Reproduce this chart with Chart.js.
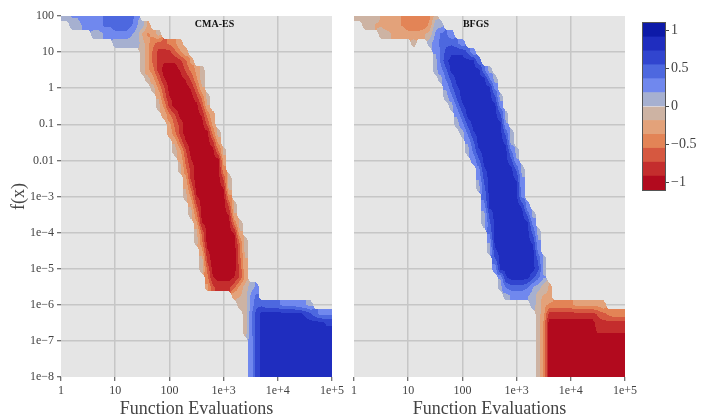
<!DOCTYPE html>
<html>
<head>
<meta charset="utf-8">
<script src="https://cdn.jsdelivr.net/npm/chart.js@4/dist/chart.umd.min.js"></script>
<style>
  body { margin: 0; background: #fff; }
  #wrap { position: relative; width: 708px; height: 419px; overflow: hidden; }
  canvas { position: absolute; top: 0; }
</style>
</head>
<body>
<div id="wrap">
  <canvas id="cmaes" width="350" height="419" style="left:0px;width:350px;height:419px"></canvas>
  <canvas id="bfgs" width="298" height="419" style="left:345px;width:298px;height:419px"></canvas>
  <canvas id="bar" width="78" height="419" style="left:630px;width:78px;height:419px"></canvas>
</div>
<script>
const _ = null;

// grid nodes: log10(evaluations) across, log10(f) down
const logEvals = [0, 0.1, 0.2, 0.3, 0.4, 0.5, 0.6, 0.7, 0.8, 0.9, 1, 1.1, 1.2, 1.3, 1.4, 1.5, 1.6, 1.7, 1.8, 1.9,
  2, 2.1, 2.2, 2.3, 2.4, 2.5, 2.6, 2.7, 2.8, 2.9, 3, 3.1, 3.2, 3.3, 3.4, 3.5, 3.6, 3.7, 3.8, 3.9,
  4, 4.1, 4.2, 4.3, 4.4, 4.5, 4.6, 4.7, 4.8, 4.9, 5];
const logF = [2, 1.75, 1.5, 1.25, 1, 0.75, 0.5, 0.25, 0, -0.25, -0.5, -0.75, -1, -1.25, -1.5, -1.75, -2, -2.25, -2.5, -2.75,
  -3, -3.25, -3.5, -3.75, -4, -4.25, -4.5, -4.75, -5, -5.25, -5.5, -5.75, -6, -6.25, -6.5, -6.75, -7, -7.25, -7.5, -7.75, -8];

// one entry per logF row: [first column, values in tenths]; other columns are empty
const cmaesRows = [
  [0, [1, 1, 2, 2, 3, 3, 3, 3, 4, 4, 5, 5, 5, 5, 2]],
  [2, [1, 1, 2, 3, 3, 3, 4, 4, 5, 5, 5, 4, 2, 1, -2]],
  [6, [1, 1, 2, 2, 3, 3, 3, 2, 1, -2, -4, -3, -1]],
  [10, [1, 1, 1, 1, 1, -1, -3, -5, -6, -6, -5, -4, -2]],
  [15, [-1, -3, -6, -8, -8, -8, -6, -4, -2]],
  [15, [-1, -3, -6, -8, -9, -9, -9, -8, -6, -3]],
  [15, [-1, -3, -5, -8, -10, -10, -10, -9, -7, -5, -3, -1]],
  [16, [-1, -3, -6, -9, -10, -10, -10, -9, -7, -4, -1]],
  [17, [-1, -4, -7, -10, -10, -10, -10, -9, -6, -2]],
  [18, [-2, -6, -9, -10, -10, -10, -10, -8, -5, -1]],
  [18, [-1, -4, -8, -10, -10, -10, -10, -10, -7, -2]],
  [19, [-2, -5, -7, -10, -10, -10, -10, -9, -5, -2]],
  [20, [-3, -6, -8, -10, -10, -10, -10, -7, -3]],
  [20, [-2, -5, -8, -10, -10, -10, -10, -10, -5, -1]],
  [21, [-2, -6, -9, -10, -10, -10, -10, -8, -3]],
  [21, [-1, -3, -7, -10, -10, -10, -10, -10, -6, -1]],
  [22, [-2, -6, -9, -10, -10, -10, -10, -10, -3]],
  [22, [-1, -5, -8, -10, -10, -10, -10, -10, -4]],
  [23, [-3, -8, -10, -10, -10, -10, -10, -7, -1]],
  [23, [-2, -6, -10, -10, -10, -10, -10, -9, -1]],
  [23, [-1, -4, -9, -10, -10, -10, -10, -10, -4]],
  [24, [-2, -7, -10, -10, -10, -10, -10, -7, -1]],
  [24, [-1, -5, -10, -10, -10, -10, -10, -9, -2]],
  [25, [-3, -9, -10, -10, -10, -10, -10, -5, -1]],
  [25, [-1, -6, -10, -10, -10, -10, -10, -9, -2]],
  [25, [-1, -5, -10, -10, -10, -10, -10, -10, -5, -1]],
  [26, [-3, -9, -10, -10, -10, -10, -10, -6, -1]],
  [26, [-1, -8, -10, -10, -10, -10, -10, -6, -2]],
  [26, [-1, -6, -10, -10, -10, -10, -10, -7, -2]],
  [27, [-5, -9, -10, -10, -10, -9, -7, -3]],
  [27, [-3, -7, -8, -8, -8, -6, -3, -1, 1, 2]],
  [32, [-2, -2, -1, 2, 4]],
  [33, [-1, -1, 2, 5, 5, 4, 4, 4, 3, 3, 3, 2, 2, 1]],
  [34, [-1, 3, 6, 8, 8, 8, 8, 8, 8, 8, 8, 7, 6, 4, 3, 3, 3]],
  [34, [-1, 3, 6, 8, 8, 8, 8, 8, 8, 8, 8, 8, 8, 8, 8, 7, 7]],
  [34, [-1, 3, 6, 8, 8, 8, 8, 8, 8, 8, 8, 8, 8, 8, 8, 8, 8]],
  [35, [2, 6, 8, 8, 8, 8, 8, 8, 8, 8, 8, 8, 8, 8, 8, 8]],
  [35, [2, 6, 8, 8, 8, 8, 8, 8, 8, 8, 8, 8, 8, 8, 8, 8]],
  [35, [2, 6, 8, 8, 8, 8, 8, 8, 8, 8, 8, 8, 8, 8, 8, 8]],
  [35, [2, 6, 8, 8, 8, 8, 8, 8, 8, 8, 8, 8, 8, 8, 8, 8]],
  [35, [2, 6, 8, 8, 8, 8, 8, 8, 8, 8, 8, 8, 8, 8, 8, 8]]
];

const bfgsRows = [
  [0, [-1, -1, -1, -1, -1, -2, -3, -3, -3, -4, -5, -5, -5, -5, -4, -1]],
  [2, [-1, -1, -2, -2, -3, -3, -3, -4, -5, -5, -5, -5, -3, 1, 1]],
  [5, [-1, -1, -2, -2, -2, -3, -3, -3, -2, -1, 2, 4, 4, 2]],
  [11, [-1, _, _, 1, 3, 4, 5, 5, 4, 2]],
  [15, [2, 4, 6, 7, 7, 7, 5, 2]],
  [15, [1, 4, 7, 8, 8, 8, 8, 8, 4]],
  [15, [1, 3, 5, 8, 8, 8, 8, 8, 8, 4, 1]],
  [16, [1, 4, 6, 8, 8, 8, 8, 8, 8, 4, 1]],
  [17, [2, 5, 7, 8, 8, 8, 8, 8, 8, 3]],
  [17, [1, 3, 6, 8, 8, 8, 8, 8, 8, 6, 1]],
  [18, [1, 4, 7, 8, 8, 8, 8, 8, 8, 3]],
  [19, [2, 5, 8, 8, 8, 8, 8, 8, 6, 1]],
  [19, [1, 3, 6, 8, 8, 8, 8, 8, 8, 2]],
  [20, [1, 4, 7, 8, 8, 8, 8, 8, 5, 1]],
  [21, [2, 5, 8, 8, 8, 8, 8, 7, 1]],
  [21, [1, 4, 7, 8, 8, 8, 8, 8, 4, 1]],
  [22, [2, 5, 8, 8, 8, 8, 8, 6, 2]],
  [23, [3, 7, 8, 8, 8, 8, 8, 5, 1]],
  [23, [2, 6, 8, 8, 8, 8, 8, 7, 2]],
  [23, [1, 5, 8, 8, 8, 8, 8, 8, 2]],
  [24, [4, 8, 8, 8, 8, 8, 8, 3]],
  [24, [3, 8, 8, 8, 8, 8, 8, 7, 2]],
  [24, [1, 6, 8, 8, 8, 8, 8, 8, 5, 1]],
  [24, [1, 5, 8, 8, 8, 8, 8, 8, 8, 3]],
  [25, [4, 8, 8, 8, 8, 8, 8, 8, 5, 1]],
  [25, [2, 8, 8, 8, 8, 8, 8, 8, 7, 2]],
  [25, [1, 7, 8, 8, 8, 8, 8, 8, 8, 3]],
  [26, [5, 8, 8, 8, 8, 8, 8, 8, 5, 1]],
  [26, [2, 8, 8, 8, 8, 8, 8, 8, 6, 1]],
  [27, [2, 7, 8, 8, 8, 8, 6, 4, 2]],
  [27, [1, 4, 5, 5, 5, 4, 2, 1, -1, -2]],
  [28, [1, 2, 2, 2, 2, 1, -1, -2, -2]],
  [33, [1, -1, -3, -4, -4, -4, -4, -4, -3, -3, -3, -3, -3, -2]],
  [34, [-1, -3, -8, -8, -8, -8, -8, -8, -8, -8, -8, -7, -6, -5, -4, -4, -4]],
  [34, [-1, -4, -10, -10, -10, -10, -10, -10, -10, -10, -10, -8, -8, -8, -8, -8, -8]],
  [34, [-1, -4, -10, -10, -10, -10, -10, -10, -10, -10, -10, -9, -9, -9, -9, -9, -9]],
  [34, [-1, -4, -10, -10, -10, -10, -10, -10, -10, -10, -10, -10, -10, -10, -10, -10, -10]],
  [34, [-1, -4, -10, -10, -10, -10, -10, -10, -10, -10, -10, -10, -10, -10, -10, -10, -10]],
  [34, [-1, -4, -10, -10, -10, -10, -10, -10, -10, -10, -10, -10, -10, -10, -10, -10, -10]],
  [34, [-1, -4, -10, -10, -10, -10, -10, -10, -10, -10, -10, -10, -10, -10, -10, -10, -10]],
  [34, [-1, -4, -10, -10, -10, -10, -10, -10, -10, -10, -10, -10, -10, -10, -10, -10, -10]]
];

const panelNames = ['CMA-ES', 'BFGS'];
const nameEvals = [680, 178];

const xTickValues = [1, 10, 100, 1e3, 1e4, 1e5];
const xTickLabels = ['1', '10', '100', '1e+3', '1e+4', '1e+5'];
const yTickValues = [1e-8, 1e-7, 1e-6, 1e-5, 1e-4, 1e-3, 0.01, 0.1, 1, 10, 100];
const yTickLabels = ['1e\u22128', '1e\u22127', '1e\u22126', '1e\u22125', '1e\u22124', '1e\u22123', '0.01', '0.1', '1', '10', '100'];

const levelEdges = [-1.1, -0.9167, -0.7333, -0.55, -0.3667, -0.1833, 0, 0.1833, 0.3667, 0.55, 0.7333, 0.9167, 1.1];
const levelColors = ['#b20a1e', '#c42d2d', '#d65840', '#e38456', '#e3a27a', '#cdb3a3',
  '#a6b0d0', '#7088ee', '#4d68df', '#3145cf', '#1f2dbf', '#0d1aa8'];
const barTickValues = [-1, -0.5, 0, 0.5, 1];
const barTickLabels = ['\u22121', '\u22120.5', '0', '0.5', '1'];

const serif = '"Liberation Serif", "Times New Roman", serif';
const textColor = '#444';
Chart.defaults.font.family = serif;
Chart.defaults.color = textColor;

const rgbs = levelColors.map(c => [1, 3, 5].map(k => parseInt(c.slice(k, k + 2), 16)));

function expandRows(rows) {
  return rows.map(([start, vals]) => {
    const r = logEvals.map(() => null);
    vals.forEach((v, k) => { r[start + k] = v; });
    return r;
  });
}

// index of the grid cell holding v and the fraction across it
function locate(nodes, v) {
  const asc = nodes[nodes.length - 1] > nodes[0];
  for (let i = 0; i < nodes.length - 1; i++) {
    const a = nodes[i], b = nodes[i + 1];
    if ((asc && v <= b) || (!asc && v >= b)) {
      return [i, Math.min(1, Math.max(0, (v - a) / (b - a)))];
    }
  }
  return [nodes.length - 2, 1];
}

function paintContour(chart, grid) {
  const { ctx, chartArea: a, scales } = chart;
  const w = Math.round(a.right - a.left), h = Math.round(a.bottom - a.top);
  const off = document.createElement('canvas');
  off.width = w; off.height = h;
  const octx = off.getContext('2d');
  const img = octx.createImageData(w, h);
  const cols = [];
  for (let i = 0; i < w; i++) {
    cols.push(locate(logEvals, Math.log10(scales.x.getValueForPixel(a.left + i + 0.5))));
  }
  for (let j = 0; j < h; j++) {
    const [r, fy] = locate(logF, Math.log10(scales.y.getValueForPixel(a.top + j + 0.5)));
    for (let i = 0; i < w; i++) {
      const [c, fx] = cols[i];
      const corners = [
        [grid[r][c], (1 - fx) * (1 - fy)], [grid[r][c + 1], fx * (1 - fy)],
        [grid[r + 1][c], (1 - fx) * fy], [grid[r + 1][c + 1], fx * fy]
      ];
      // a pixel is filled only when it is mostly backed by data
      let acc = 0, wsum = 0;
      corners.forEach(([z, wt]) => { if (z !== null) { acc += z * wt; wsum += wt; } });
      if (wsum < 0.5) continue;
      const v = acc / wsum / 10;
      let b = 0;
      while (b < levelColors.length - 1 && v >= levelEdges[b + 1]) b++;
      const p = (j * w + i) * 4;
      img.data[p] = rgbs[b][0];
      img.data[p + 1] = rgbs[b][1];
      img.data[p + 2] = rgbs[b][2];
      img.data[p + 3] = 255;
    }
  }
  octx.putImageData(img, 0, 0);
  ctx.drawImage(off, a.left, a.top);
}

function makePanel(id, rows, name, nameEval, showY) {
  const grid = expandRows(rows);
  const edgeless = (c) => (c.index === 0 || c.index === c.scale.ticks.length - 1) ? 'rgba(0,0,0,0)' : '#c6c6c6';
  return new Chart(document.getElementById(id), {
    type: 'scatter',
    data: { datasets: [] },
    options: {
      responsive: false,
      animation: false,
      events: [],
      layout: { padding: { top: 16, right: 18, left: 0, bottom: 0 } },
      plugins: { legend: { display: false }, tooltip: { enabled: false } },
      scales: {
        x: {
          type: 'logarithmic',
          min: 1,
          max: 1e5,
          afterBuildTicks: (s) => { s.ticks = xTickValues.map(v => ({ value: v })); },
          afterFit: (s) => { s.height = 42; },
          ticks: {
            autoSkip: false, maxRotation: 0, padding: 3,
            font: { size: 12 },
            callback: (v) => xTickLabels[xTickValues.indexOf(v)]
          },
          grid: { color: edgeless, lineWidth: 1.5, tickColor: textColor, tickLength: 4, tickWidth: 1 },
          border: { display: false },
          title: {
            display: true, text: 'Function Evaluations',
            font: { size: 18, lineHeight: 1 }, padding: { top: 0, bottom: 1 }
          }
        },
        y: {
          type: 'logarithmic',
          min: 1e-8,
          max: 100,
          afterBuildTicks: (s) => { s.ticks = yTickValues.map(v => ({ value: v })); },
          afterFit: (s) => { s.width = showY ? 61 : 9; },
          ticks: {
            display: showY, autoSkip: false, padding: 3,
            font: { size: 12 },
            callback: (v) => yTickLabels[yTickValues.indexOf(v)]
          },
          grid: { color: edgeless, lineWidth: 1.5, drawTicks: showY, tickColor: textColor, tickLength: 4, tickWidth: 1 },
          border: { display: false },
          title: {
            display: showY, text: 'f(x)',
            font: { size: 18, lineHeight: 1 }, padding: { top: 10, bottom: 0 }
          }
        }
      }
    },
    plugins: [{
      id: 'contour',
      beforeDraw(chart) {
        const { ctx, chartArea: a } = chart;
        ctx.save();
        ctx.fillStyle = '#e5e5e5';
        ctx.fillRect(a.left, a.top, a.right - a.left, a.bottom - a.top);
        ctx.restore();
      },
      beforeDatasetsDraw(chart) {
        const { ctx, chartArea: a, scales } = chart;
        ctx.save();
        paintContour(chart, grid);
        ctx.font = 'bold 10px ' + serif;
        ctx.fillStyle = '#111';
        ctx.textAlign = 'center';
        ctx.textBaseline = 'middle';
        ctx.fillText(name, scales.x.getPixelForValue(nameEval), a.top + 8);
        ctx.restore();
      }
    }]
  });
}

makePanel('cmaes', cmaesRows, panelNames[0], nameEvals[0], true);
makePanel('bfgs', bfgsRows, panelNames[1], nameEvals[1], false);

// colour bar: one floating bar per contour band
new Chart(document.getElementById('bar'), {
  type: 'bar',
  data: {
    labels: [''],
    datasets: levelColors.map((c, i) => ({
      data: [[levelEdges[i], levelEdges[i + 1]]],
      backgroundColor: c,
      borderWidth: 0,
      grouped: false,
      barPercentage: 1,
      categoryPercentage: 1
    }))
  },
  options: {
    responsive: false,
    animation: false,
    events: [],
    layout: { padding: { top: 23, bottom: 229, left: 13, right: 0 } },
    plugins: { legend: { display: false }, tooltip: { enabled: false } },
    scales: {
      x: { display: false },
      y: {
        position: 'right',
        min: -1.1,
        max: 1.1,
        afterBuildTicks: (s) => { s.ticks = barTickValues.map(v => ({ value: v })); },
        afterFit: (s) => { s.width = 43; },
        ticks: {
          padding: 2, font: { size: 14 },
          callback: (v) => barTickLabels[barTickValues.indexOf(v)]
        },
        grid: { drawOnChartArea: false, tickColor: textColor, tickLength: 4 },
        border: { display: false }
      }
    }
  },
  plugins: [{
    id: 'outline',
    afterDatasetsDraw(chart) {
      const { ctx, chartArea: a } = chart;
      ctx.save();
      ctx.strokeStyle = '#555';
      ctx.lineWidth = 1;
      ctx.strokeRect(a.left - 0.5, a.top - 0.5, a.right - a.left + 1, a.bottom - a.top + 1);
      ctx.restore();
    }
  }]
});
</script>
</body>
</html>
